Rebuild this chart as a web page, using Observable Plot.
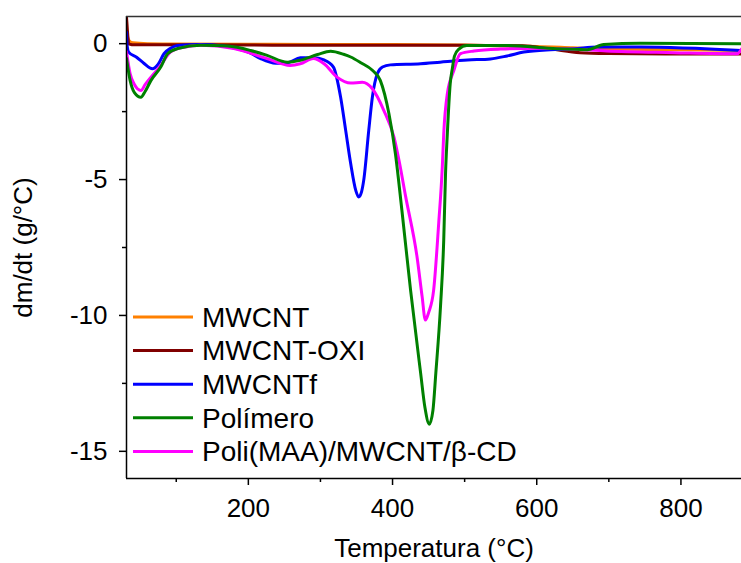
<!DOCTYPE html>
<html><head><meta charset="utf-8">
<script src="https://cdn.jsdelivr.net/npm/d3@7"></script>
<script src="https://cdn.jsdelivr.net/npm/@observablehq/plot@0.6"></script>
<style>
body{margin:0;background:#fff}
#chart svg{font-family:"Liberation Sans",Arial,sans-serif}
</style>
</head><body><div id="chart"></div>
<script>
const seriesNames = ["MWCNT", "MWCNT-OXI", "MWCNTf", "Polímero", "Poli(MAA)/MWCNT/β-CD"];
const seriesColors = ["#FF8000", "#800000", "#0000FF", "#008000", "#FF00FF"];

const mwcntT = [31, 32, 35, 40, 60, 100, 200, 300, 400, 500, 550, 600, 650, 700, 800, 884];
const mwcntV = [0.9, 0.3, 0.1, 0.03, 0, -0.01, -0.02, -0.03, -0.03, -0.05, -0.08, -0.1, -0.15, -0.2, -0.22, -0.25];

const oxiT = [31, 32.5, 34, 37, 40, 60, 100, 200, 300, 400, 500, 580, 620, 660, 700, 800, 884];
const oxiV = [0.98, 0.4, 0.0, -0.03, -0.04, -0.04, -0.04, -0.05, -0.06, -0.06, -0.06, -0.08, -0.2, -0.33, -0.36, -0.38, -0.38];

const fT = [31, 32, 34, 45, 55, 67, 75, 83, 92, 102, 134, 162, 189, 203, 217, 238, 255, 272, 290, 305, 318, 328, 335, 342, 349, 353, 357, 360, 367, 372, 379, 386, 397, 439, 466, 504, 536, 559, 582, 619, 651, 684, 744, 884];
const fV = [0.42, -0.1, -0.31, -0.5, -0.72, -0.92, -0.75, -0.37, -0.17, -0.07, -0.03, -0.08, -0.22, -0.35, -0.55, -0.72, -0.7, -0.52, -0.52, -0.6, -0.86, -1.97, -3.19, -4.42, -5.4, -5.64, -5.45, -5.03, -3.19, -1.97, -1.1, -0.86, -0.78, -0.74, -0.68, -0.6, -0.56, -0.45, -0.31, -0.22, -0.19, -0.12, -0.12, -0.25];

const polT = [31, 36, 42, 51, 57, 65, 78.5, 88, 102, 134, 171, 203, 226, 254, 272, 296, 314, 332, 342, 356, 372, 383, 395, 404, 413, 425, 439, 445, 451, 456, 460, 466.5, 471, 473.5, 476, 480, 483, 486, 492, 503, 559, 628, 670, 693, 744, 884];
const polV = [-0.55, -1.35, -1.8, -1.97, -1.75, -1.35, -0.86, -0.37, -0.18, -0.06, -0.09, -0.25, -0.43, -0.68, -0.61, -0.4, -0.28, -0.39, -0.49, -0.7, -0.98, -1.35, -2.58, -4.05, -6.14, -9.07, -12.13, -13.4, -14.0, -13.5, -12.13, -9.68, -7.23, -4.78, -3.31, -1.47, -0.9, -0.45, -0.2, -0.07, -0.07, -0.19, -0.22, -0.03, 0.02, 0.0];

const compT = [31, 36, 42, 51, 57, 65, 78.5, 92, 111, 134, 180, 226, 258, 272, 290, 305, 323, 342, 358, 372, 388, 402, 409, 418, 434, 441, 445.5, 450, 457, 464, 469, 471, 476, 485, 494, 513, 550, 605, 650, 697, 790, 878, 884];
const compV = [-0.3, -1.1, -1.5, -1.72, -1.5, -1.23, -0.8, -0.31, -0.13, -0.06, -0.18, -0.55, -0.8, -0.74, -0.55, -0.74, -1.23, -1.45, -1.42, -1.66, -2.46, -3.44, -4.3, -5.6, -7.85, -9.3, -10.17, -9.9, -9.07, -6.62, -4.54, -3.31, -1.84, -0.99, -0.37, -0.27, -0.2, -0.17, -0.2, -0.27, -0.33, -0.37, -0.2];

const xMajor = [200, 400, 600, 800];
const xMinor = [100, 300, 500, 700];
const yMajor = [0, -5, -10, -15];
const yMinor = [-2.5, -7.5, -12.5];

const seriesT = [mwcntT, oxiT, fT, polT, compT];
const seriesV = [mwcntV, oxiV, fV, polV, compV];
const drawOrder = [0, 1, 2, 4, 3];

const data = [];
for (const i of drawOrder) {
  seriesT[i].forEach((t, k) => data.push({series: seriesNames[i], T: t, v: seriesV[i][k]}));
}

const chart = Plot.plot({
  width: 741, height: 563,
  marginLeft: 126, marginRight: 0, marginTop: 16, marginBottom: 85,
  style: {fontFamily: "'Liberation Sans', Arial, sans-serif", fontSize: "26px", color: "#000", background: "#fff", overflow: "visible"},
  x: {domain: [31, 884]},
  y: {domain: [-16, 1]},
  color: {domain: seriesNames, range: seriesColors},
  marks: [
    Plot.line(data, {x: "T", y: "v", z: "series", stroke: "series", strokeWidth: 3, curve: "monotone-x", clip: true}),
    Plot.ruleX([31], {stroke: "#000", strokeWidth: 1.5}),
    Plot.ruleY([-16], {stroke: "#000", strokeWidth: 1.5}),
    Plot.ruleY([1], {stroke: "#333", strokeWidth: 1.5}),
    Plot.axisX(xMajor, {tickSize: 7, tickPadding: 13, strokeWidth: 1.5, fontSize: 26, tickFormat: d => d, label: "Temperatura (°C)", labelAnchor: "center", labelArrow: "none", labelOffset: 78}),
    Plot.axisX(xMinor, {tickSize: 4, strokeWidth: 1.5, tickFormat: () => "", label: null}),
    Plot.axisY(yMajor, {tickSize: 7, tickPadding: 12, strokeWidth: 1.5, fontSize: 26, tickFormat: d => d, label: "dm/dt (g/°C)", labelAnchor: "center", labelArrow: "none", labelOffset: 113}),
    Plot.axisY(yMinor, {tickSize: 4, strokeWidth: 1.5, tickFormat: () => "", label: null})
  ]
});

// legend inside the plot area
const svg = d3.select(chart);
const lg = svg.append("g").attr("class", "legend").attr("text-anchor", "start");
seriesNames.forEach((name, i) => {
  const cy = 317 + i * 33.6;
  lg.append("line").attr("x1", 133).attr("x2", 193).attr("y1", cy).attr("y2", cy)
    .attr("stroke", seriesColors[i]).attr("stroke-width", 3);
  lg.append("text").attr("x", 202).attr("y", cy).attr("dy", "0.35em")
    .attr("font-size", "28px").attr("fill", "#000").attr("text-anchor", "start").text(name);
});

document.getElementById("chart").appendChild(chart);
</script>
</body></html>
